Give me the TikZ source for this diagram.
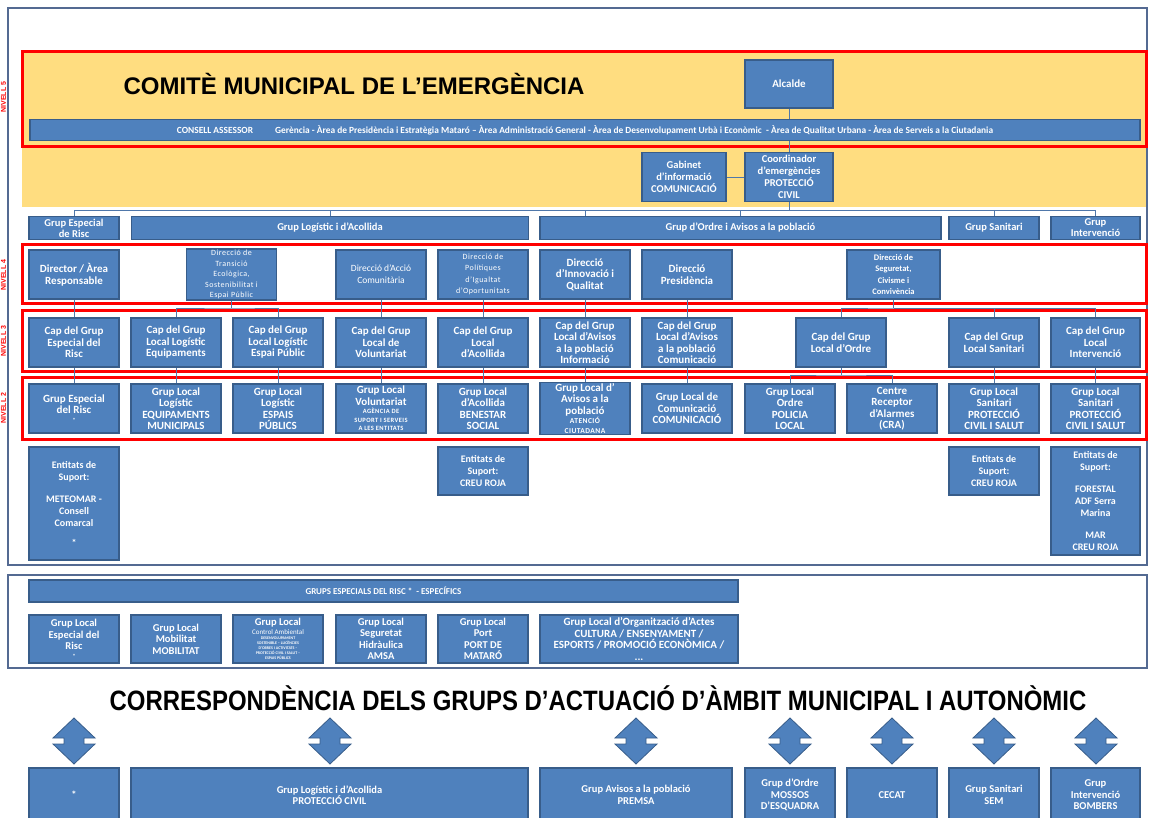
\documentclass[tikz,border=0pt]{standalone}
\usepackage{fontspec}
\usepackage{graphicx}
\setmainfont{Carlito}
\newfontfamily\titlefont{Liberation Sans}
\newfontfamily\spacedfont[LetterSpace=6]{Carlito}
\usetikzlibrary{positioning}
\definecolor{GrupBlue}{RGB}{79,129,189}
\definecolor{GrupEdge}{RGB}{56,93,138}
\definecolor{FrameBlue}{RGB}{84,106,146}
\definecolor{NivellRed}{RGB}{255,0,0}
\definecolor{ComiteYellow}{RGB}{255,221,128}
\definecolor{LinkBlue}{RGB}{79,119,170}

\begin{document}
\begin{tikzpicture}[
x=1pt,y=-1pt,
grp/.style={
draw=GrupEdge,
fill=GrupBlue,
line width=1.8pt,
text=white,
font=\fontsize{11}{11.5}\selectfont\bfseries,
align=center,
inner sep=1pt,
minimum width=90pt,
minimum height=49pt
},
bar/.style={grp,minimum height=23pt,font=\fontsize{10.5}{11}\selectfont\bfseries},
lightgrp/.style={grp,font=\fontsize{8}{10.5}\selectfont\spacedfont},
entitat/.style={grp,font=\fontsize{10}{12}\selectfont\bfseries},
especial/.style={grp,minimum height=48pt,font=\fontsize{10.5}{11.5}\selectfont\bfseries},
autonom/.style={grp,minimum height=54pt,font=\fontsize{10.5}{11.5}\selectfont\bfseries},
nivell/.style={draw=NivellRed,line width=3pt},
frame/.style={draw=FrameBlue,line width=2pt},
link/.style={draw=LinkBlue,line width=0.8pt},
nivelltext/.style={rotate=90,text=NivellRed,font=\titlefont\bfseries\fontsize{7}{7}\selectfont}
]
\useasboundingbox (0,0) rectangle (1149,818);

% fons i marcs
\fill[ComiteYellow] (22,52) rectangle (1146,207);
\draw[frame] (8,8) rectangle (1147,565);
\draw[frame] (8,575) rectangle (1147,668);
\draw[nivell] (22,52) rectangle (1146,147);
\draw[nivell] (22,245) rectangle (1146,304);
\draw[nivell] (22,311) rectangle (1146,372);
\draw[nivell] (22,378) rectangle (1146,439);

\node[nivelltext] (n5) at (3.5,97) {NIVELL 5};
\node[nivelltext] (n4) at (3.5,275) {NIVELL 4};
\node[nivelltext] (n3) at (3.5,341) {NIVELL 3};
\node[nivelltext] (n2) at (3.5,408) {NIVELL 2};

% nivell 5
\node[font=\titlefont\bfseries\fontsize{24}{24}\selectfont] (comite) at (354,84) {COMITÈ MUNICIPAL DE L’EMERGÈNCIA};
\node[grp,minimum width=88pt,minimum height=48pt] (alcalde) at (789,84) {Alcalde};
\node[grp,minimum width=1110pt,minimum height=21pt,font=\fontsize{9.4}{10}\selectfont\bfseries] (consell) at (585,130)
{CONSELL ASSESSOR\hspace{22pt}Gerència - Àrea de Presidència i Estratègia Mataró – Àrea Administració General - Àrea de Desenvolupament Urbà i Econòmic \ - Àrea de Qualitat Urbana - Àrea de Serveis a la Ciutadania};
\node[grp,minimum width=84pt,font=\fontsize{10.5}{12}\selectfont\bfseries] (gabinet) at (684,177) {Gabinet\\d’informació\\COMUNICACIÓ};
\node[grp,minimum width=88pt,font=\fontsize{10.5}{11.8}\selectfont\bfseries] (coord) at (789,177) {Coordinador\\d’emergències\\PROTECCIÓ\\CIVIL};

% grups d'actuacio
\node[bar] (gER) at (74,228) {Grup Especial\\de Risc};
\node[bar,minimum width=397pt] (gLA) at (330,228) {Grup Logístic i d’Acollida};
\node[bar,minimum width=401pt] (gOA) at (740.5,228) {Grup d’Ordre i Avisos a la població};
\node[bar] (gS) at (994,228) {Grup Sanitari};
\node[bar,minimum width=89pt] (gI) at (1095.5,228) {Grup\\Intervenció};

% nivell 4
\node[grp] (dAR) at (74,274.5) {Director / Àrea\\Responsable};
\node[lightgrp] (dTE) at (231.5,274.5) {Direcció de\\Transició\\Ecològica,\\Sostenibilitat i\\Espai Públic};
\node[grp,font=\fontsize{9.5}{12}\selectfont] (dAC) at (381,274.5) {Direcció d’Acció\\Comunitària};
\node[lightgrp,font=\fontsize{8}{11.5}\selectfont\spacedfont] (dPI) at (483,274.5) {Direcció de\\Polítiques\\d’Igualtat\\d’Oportunitats};
\node[grp] (dIQ) at (585,274.5) {Direcció\\d’Innovació i\\Qualitat};
\node[grp] (dPR) at (687,274.5) {Direcció\\Presidència};
\node[grp,minimum width=93pt,font=\fontsize{8.5}{11.5}\selectfont\bfseries] (dSC) at (893.5,274.5) {Direcció de\\Seguretat,\\Civisme i\\Convivència};

% nivell 3
\node[grp] (cER) at (74,342.5) {Cap del Grup\\Especial del\\Risc};
\node[grp] (cLE) at (176,342.5) {Cap del Grup\\Local Logístic\\Equipaments};
\node[grp] (cLP) at (278,342.5) {Cap del Grup\\Local Logístic\\Espai Públic};
\node[grp] (cVO) at (381,342.5) {Cap del Grup\\Local de\\Voluntariat};
\node[grp] (cAC) at (483,342.5) {Cap del Grup\\Local\\d’Acollida};
\node[grp] (cAI) at (585,342.5) {Cap del Grup\\Local d’Avisos\\a la població\\Informació};
\node[grp] (cAM) at (687,342.5) {Cap del Grup\\Local d’Avisos\\a la població\\Comunicació};
\node[grp] (cOR) at (841,342.5) {Cap del Grup\\Local d’Ordre};
\node[grp] (cSA) at (994,342.5) {Cap del Grup\\Local Sanitari};
\node[grp,minimum width=89pt] (cIN) at (1095.5,342.5) {Cap del Grup\\Local\\Intervenció};

% nivell 2
\node[grp] (lER) at (74,408.5) {Grup Especial\\del Risc\\[-3pt]{\fontsize{6}{6}\selectfont *}};
\node[grp] (lEQ) at (176,408.5) {Grup Local\\Logístic\\EQUIPAMENTS\\MUNICIPALS};
\node[grp] (lEP) at (278,408.5) {Grup Local\\Logístic\\ESPAIS\\PÚBLICS};
\node[grp] (lVO) at (381,408.5) {Grup Local\\Voluntariat\\[-3pt]{\spacedfont\fontsize{6.5}{6.5}\selectfont AGÈNCIA DE}\\[-3pt]{\spacedfont\fontsize{6.5}{6.5}\selectfont SUPORT I SERVEIS}\\[-3pt]{\spacedfont\fontsize{6.5}{6.5}\selectfont A LES ENTITATS}};
\node[grp] (lAC) at (483,408.5) {Grup Local\\d’Acollida\\BENESTAR\\SOCIAL};
\node[grp] (lAV) at (585,408.5) {Grup Local d’\\Avisos a la\\població\\[-2pt]{\spacedfont\fontsize{7.5}{7.5}\selectfont ATENCIÓ}\\[-2pt]{\spacedfont\fontsize{7.5}{7.5}\selectfont CIUTADANA}};
\node[grp] (lCO) at (687,408.5) {Grup Local de\\Comunicació\\COMUNICACIÓ};
\node[grp] (lOR) at (790,408.5) {Grup Local\\Ordre\\POLICIA\\LOCAL};
\node[grp] (lCRA) at (892,408.5) {Centre\\Receptor\\d’Alarmes\\(CRA)};
\node[grp] (lSA) at (994,408.5) {Grup Local\\Sanitari\\PROTECCIÓ\\CIVIL I SALUT};
\node[grp,minimum width=89pt] (lIN) at (1095.5,408.5) {Grup Local\\Sanitari\\PROTECCIÓ\\CIVIL I SALUT};

% entitats de suport
\node[entitat,minimum height=113pt] (eER) at (74,503.5) {Entitats de\\Suport:\\[10pt]METEOMAR -\\Consell\\Comarcal\\[8pt]*};
\node[entitat,minimum height=48pt] (eAC) at (483,471) {Entitats de\\Suport:\\CREU ROJA};
\node[entitat,minimum height=48pt] (eSA) at (994,471) {Entitats de\\Suport:\\CREU ROJA};
\node[entitat,minimum width=89pt,minimum height=108pt] (eIN) at (1095.5,501) {Entitats de\\Suport:\\[10pt]FORESTAL\\ADF Serra\\Marina\\[10pt]MAR\\CREU ROJA};

% grups especials del risc
\node[grp,minimum width=709pt,minimum height=22pt,font=\fontsize{9}{10}\selectfont\bfseries] (sBar) at (383.5,591) {GRUPS ESPECIALS DEL RISC * \ - ESPECÍFICS};
\node[especial] (sER) at (74,639) {Grup Local\\Especial del\\Risc\\[-3pt]{\fontsize{6}{6}\selectfont *}};
\node[especial] (sMO) at (176,639) {Grup Local\\Mobilitat\\MOBILITAT};
\node[especial] (sCA) at (278,639) {Grup Local\\[-3pt]{\mdseries\fontsize{7}{7}\selectfont Control Ambiental}\\[-6pt]{\fontsize{4}{4}\selectfont DESENVOLUPAMENT}\\[-6.5pt]{\fontsize{4}{4}\selectfont SOSTENIBLE – LLICÈNCIES}\\[-6.5pt]{\fontsize{4}{4}\selectfont D’OBRES I ACTIVITATS –}\\[-6.5pt]{\fontsize{4}{4}\selectfont PROTECCIÓ CIVIL I SALUT –}\\[-6.5pt]{\fontsize{4}{4}\selectfont ESPAIS PÚBLICS}};
\node[especial] (sSH) at (381,639) {Grup Local\\Seguretat\\Hidràulica\\AMSA};
\node[especial] (sPO) at (483,639) {Grup Local\\Port\\PORT DE\\MATARÓ};
\node[especial,minimum width=198pt,font=\fontsize{11}{11.8}\selectfont\bfseries] (sOA) at (639,639) {Grup Local d’Organització d’Actes\\CULTURA / ENSENYAMENT /\\ESPORTS / PROMOCIÓ ECONÒMICA /\\...};

% correspondencia
\node[font=\titlefont\bfseries\fontsize{28}{28}\selectfont] (corresp) at (598,698) {\scalebox{0.855}[1]{CORRESPONDÈNCIA DELS GRUPS D’ACTUACIÓ D’ÀMBIT MUNICIPAL I AUTONÒMIC}};
\foreach \ax in {74,330,636,790,892,994,1096}
  \filldraw[fill=GrupBlue,draw=GrupEdge,line width=0.8pt] (\ax,718) -- (\ax+21,738) -- (\ax+10,738) -- (\ax+10,744) -- (\ax+21,744) -- (\ax,764) -- (\ax-21,744) -- (\ax-10,744) -- (\ax-10,738) -- (\ax-21,738) -- cycle;
\node[autonom] (bER) at (74,795) {*};
\node[autonom,minimum width=397pt] (bLA) at (329.5,795) {Grup Logístic i d’Acollida\\PROTECCIÓ CIVIL};
\node[autonom,minimum width=192pt] (bAV) at (636,795) {Grup Avisos a la població\\PREMSA};
\node[autonom] (bOR) at (790,795) {Grup d’Ordre\\MOSSOS\\D’ESQUADRA};
\node[autonom] (bCE) at (892,795) {CECAT};
\node[autonom] (bSA) at (994,795) {Grup Sanitari\\SEM};
\node[autonom,minimum width=89pt] (bIN) at (1095.5,795) {Grup\\Intervenció\\BOMBERS};

% connexions
\draw[link] (alcalde.south) -- (alcalde.south |- consell.north);
\draw[link] (consell.south -| coord.north) -- (coord.north);
\draw[link] (gabinet.east) -- (coord.west);
\coordinate (grBus) at (789,210);
\draw[link] (coord.south) -- (grBus);
\draw[link] (gER.north) |- (grBus) -| (gI.north);
\draw[link] (gLA.north) |- (grBus);
\draw[link] (gOA.north) |- (grBus);
\draw[link] ([xshift=-155pt]gOA.north) |- (grBus);
\draw[link] (gS.north) |- (grBus);

\foreach \d/\c in {dAR/cER,dAC/cVO,dPI/cAC,dIQ/cAI,dPR/cAM}
  \draw[link] (\d.south) -- (\c.north);
\coordinate (teBus) at (231.5,308);
\draw[link] (dTE.south) -- (teBus);
\draw[link] (cLE.north) |- (teBus) -| (cLP.north);
\coordinate (scBus) at (893.5,308);
\draw[link] (dSC.south) -- (scBus);
\draw[link] (cOR.north) |- (scBus) -| (cIN.north);
\draw[link] (cSA.north) |- (scBus);

\foreach \c/\g in {cER/lER,cLE/lEQ,cLP/lEP,cVO/lVO,cAC/lAC,cAI/lAV,cAM/lCO,cSA/lSA,cIN/lIN}
  \draw[link] (\c.south) -- (\g.north);
\coordinate (orBus) at (841,375);
\draw[link] (cOR.south) -- (orBus);
\draw[link] (lOR.north) |- (orBus) -| (lCRA.north);
\end{tikzpicture}
\end{document}
